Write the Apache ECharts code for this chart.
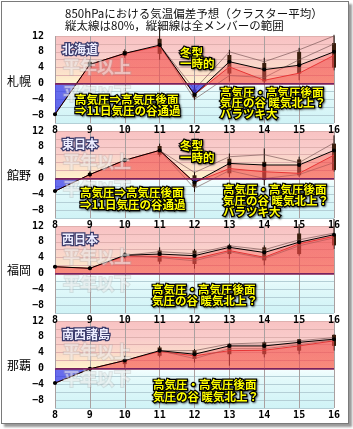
<!DOCTYPE html>
<html><head><meta charset="utf-8">
<script src="https://cdn.jsdelivr.net/npm/echarts@6/dist/echarts.min.js"></script>
<style>
html,body{margin:0;padding:0;background:#fff;}
#frame{position:absolute;left:1px;top:1px;width:346px;height:421px;border:1px solid #7a7a7a;box-shadow:3px 3px 2px #9a9a9a;background:#fff;}
#chart{position:absolute;left:0;top:0;width:353px;height:429px;}
</style></head><body>
<div id="frame"></div><div id="chart"></div>
<script>
// ---- data ----
const days = [8, 9, 10, 11, 12, 13, 14, 15, 16];
const stations = ['札幌', '館野', '福岡', '那覇'];
const regions = ['北海道', '東日本', '西日本', '南西諸島'];
const yLabels = [12, 8, 4, 0, -4, -8];
const titleLines = ['850hPaにおける気温偏差予想（クラスター平均）', '縦太線は80%，縦細線は全メンバーの範囲'];

const meanSapporo = [-7.8, 4.8, 7.6, 9.7, -2.8, 5.5, 3.5, 4.6, 8.0];
const lowSapporo  = [-7.8, 4.8, 7.6, 9.4, -2.8, 4.2, 0.8, 2.6, 7.1];
// [thin low, thin high, thick low, thick high]
const barsSapporo = [[-8.2,-7.4,-8.0,-7.6],[3.5,6.0,4.0,5.5],[6.5,8.6,7.0,8.2],[6.0,14.2,7.5,11.3],[-4.2,0.5,-3.5,-1.5],[0.5,8.5,2.5,7.2],[-0.2,6.5,0.5,5.2],[0.8,9.0,2.5,8.0],[3.3,12.3,4.0,10.2]];
const clusterASapporo = [null, null, null, 9.7, -1.5, 8.0, 5.5, 8.5, 12.0];
const clusterBSapporo = [null, null, null, 9.7, -4.0, 2.0, 1.5, 6.0, 10.0];

const meanTateno = [-3.2, 1.0, 4.6, 7.1, -1.0, 3.8, 3.4, 3.4, 7.1];
const lowTateno  = [-3.2, 1.0, 4.6, 7.1, -1.0, 2.5, 1.7, 1.3, 5.9];
const barsTateno = [[-3.5,-2.9,-3.4,-3.0],[0.3,1.8,0.6,1.4],[4.0,5.2,4.3,5.0],[5.5,8.8,6.0,8.2],[-3.4,1.7,-2.1,0.8],[0.4,6.3,1.3,5.0],[-1.7,7.6,-0.4,4.2],[0.4,5.5,0.8,4.8],[1.7,10.9,2.1,8.8]];
const clusterATateno = [null, null, null, 7.1, 1.5, 5.5, 6.0, 4.0, 9.0];
const clusterBTateno = [null, null, null, 7.1, -2.5, 2.0, 0.0, 1.0, 4.0];

const meanFukuoka = [1.7, 1.3, 4.6, 4.9, 4.5, 6.6, 5.3, 7.9, 9.8];
const lowFukuoka  = [1.7, 1.3, 4.4, 4.3, 3.7, 5.8, 4.1, 7.5, 9.4];
const barsFukuoka = [[1.4,2.0,1.5,1.9],[0.8,1.8,1.0,1.6],[3.8,5.3,4.1,5.0],[2.4,6.6,3.0,5.8],[1.2,6.2,2.4,5.8],[3.7,7.5,4.9,7.1],[2.0,7.1,3.3,6.6],[4.5,12.5,4.9,10.1],[6.2,13.8,7.1,9.8]];
const clusterAFukuoka = [null, null, 4.6, 5.5, 5.0, 7.0, 6.0, 8.5, 10.2];
const clusterBFukuoka = [null, null, 4.6, 4.0, 3.2, 5.5, 3.8, 7.0, 9.0];

const meanNaha = [-3.7, -0.1, 2.0, 4.5, 3.6, 5.7, 5.7, 6.6, 7.4];
const lowNaha  = [-3.7, -0.1, 2.0, 4.3, 3.2, 4.5, 4.6, 5.7, 7.0];
const barsNaha = [[-3.9,-3.5,-3.8,-3.6],[-0.5,0.3,-0.3,0.2],[0.2,3.2,1.1,2.4],[2.8,5.7,3.2,5.3],[1.5,4.9,2.4,4.6],[0.7,6.4,3.6,6.2],[2.8,6.8,3.6,6.6],[3.6,7.4,4.5,7.4],[4.5,8.6,5.7,8.5]];
const clusterANaha = [null, null, null, 4.5, 4.5, 6.2, 6.5, 7.0, 7.8];
const clusterBNaha = [null, null, null, 4.5, 2.5, 5.0, 5.0, 6.0, 7.2];

const notesA = ['高気圧⇒高気圧後面', '⇒11日気圧の谷通過'];
const notesB = ['冬型', '一時的'];
const notesC = ['高気圧・高気圧後面', '気圧の谷 暖気北上？', 'バラツキ大'];
const notesD = ['高気圧・高気圧後面', '気圧の谷 暖気北上？'];

// ---- layout ----
const Y_MIN = -10, Y_MAX = 12;
const LEFT = 55, WIDTH = 279, HEIGHT = 87, TOPS = [36, 131, 226, 321];
const FONT_JP = '"Noto Sans CJK JP", "Noto Sans", sans-serif';
const FONT_NUM = '"DejaVu Sans Mono", monospace';

const panels = [
  {mean: meanSapporo, low: lowSapporo, bars: barsSapporo, clusters: [clusterASapporo, clusterBSapporo]},
  {mean: meanTateno, low: lowTateno, bars: barsTateno, clusters: [clusterATateno, clusterBTateno]},
  {mean: meanFukuoka, low: lowFukuoka, bars: barsFukuoka, clusters: [clusterAFukuoka, clusterBFukuoka]},
  {mean: meanNaha, low: lowNaha, bars: barsNaha, clusters: [clusterANaha, clusterBNaha]}
];

const chart = echarts.init(document.getElementById('chart'));

function bgGradient() {
  const z = Y_MAX / (Y_MAX - Y_MIN);
  return new echarts.graphic.LinearGradient(0, 0, 0, 1, [
    {offset: 0, color: '#f8c2c2'},
    {offset: 0.2, color: '#f9cccb'},
    {offset: 0.38, color: '#fbdcca'},
    {offset: z, color: '#fff3cc'},
    {offset: z, color: '#f6ffff'},
    {offset: 0.68, color: '#e2f9fa'},
    {offset: 1, color: '#d0f3f6'}
  ]);
}

function splitColors() {
  const arr = [];
  for (let v = Y_MIN; v <= Y_MAX; v += 2) arr.push(v < 0 ? '#b4cfd6' : (v === 0 ? '#802050' : '#dfb0ae'));
  return arr;
}

function zoneGrad(i, pos, neg) {
  const yTop = chart.convertToPixel({gridIndex: i}, [8, Y_MAX])[1];
  const yBot = chart.convertToPixel({gridIndex: i}, [8, Y_MIN])[1];
  const y0 = chart.convertToPixel({gridIndex: i}, [8, 0])[1];
  const t = (y0 - yTop) / (yBot - yTop);
  return new echarts.graphic.LinearGradient(0, yTop, 0, yBot, [
    {offset: 0, color: pos}, {offset: t, color: pos},
    {offset: t, color: neg}, {offset: 1, color: neg}
  ], true);
}

function renderBar(params, api) {
  const x = api.value(0);
  const p1 = api.coord([x, api.value(1)]);
  const p2 = api.coord([x, api.value(2)]);
  const q1 = api.coord([x, api.value(3)]);
  const q2 = api.coord([x, api.value(4)]);
  return {type: 'group', children: [
    {type: 'line', shape: {x1: p1[0], y1: p1[1], x2: p2[0], y2: p2[1]}, style: {stroke: '#1a0a05', lineWidth: 1}},
    {type: 'rect', shape: {x: q1[0] - 2, y: q2[1], width: 4, height: q1[1] - q2[1]}, style: {fill: '#3a1e0e'}}
  ]};
}

function buildOption(withGrad) {
  const grid = [], xAxis = [], yAxis = [], series = [];
  panels.forEach((p, i) => {
    grid.push({left: LEFT, top: TOPS[i], width: WIDTH, height: HEIGHT, show: true, backgroundColor: bgGradient(), borderWidth: 0});
    xAxis.push({type: 'value', gridIndex: i, min: days[0], max: days[days.length - 1], interval: 1,
      axisLine: {show: false}, axisTick: {show: false},
      axisLabel: {margin: 2, fontFamily: FONT_NUM, fontWeight: 'bold', fontSize: 10, color: '#000'},
      splitLine: {show: true, lineStyle: {color: '#aaa0a0', width: 1}}});
    yAxis.push({type: 'value', gridIndex: i, min: Y_MIN, max: Y_MAX, interval: 2,
      axisLine: {show: false}, axisTick: {show: false},
      axisLabel: {margin: 11, fontFamily: FONT_NUM, fontWeight: 'bold', fontSize: 10, color: '#000',
        formatter: v => yLabels.includes(v) ? (v < 0 ? '\u2212' + (-v) : String(v)) : ''},
      splitLine: {show: true, lineStyle: {color: splitColors(), width: 1}}});
    series.push({type: 'custom', xAxisIndex: i, yAxisIndex: i, clip: false, z: 2,
      data: days.map((d, k) => [d].concat(p.bars[k])), renderItem: renderBar});
    series.push({type: 'line', xAxisIndex: i, yAxisIndex: i, z: 3, showSymbol: false, symbol: 'none',
      data: days.map((d, k) => [d, p.low[k]]),
      lineStyle: {color: '#d81818', width: 1},
      areaStyle: {opacity: 1, color: withGrad ? zoneGrad(i, 'rgba(228,30,30,0.34)', 'rgba(40,40,220,0.35)') : 'rgba(228,30,30,0.34)'}});
    p.clusters.forEach(c => {
      series.push({type: 'line', xAxisIndex: i, yAxisIndex: i, z: 3, showSymbol: false, symbol: 'none',
        data: days.map((d, k) => [d, c[k]]), lineStyle: {color: '#6a4848', width: 0.6}});
    });
    series.push({type: 'line', xAxisIndex: i, yAxisIndex: i, z: 4, symbol: 'circle', symbolSize: 4,
      data: days.map((d, k) => [d, p.mean[k]]),
      itemStyle: {color: '#000'}, lineStyle: {color: '#000', width: 1},
      areaStyle: {opacity: 1, color: withGrad ? zoneGrad(i, 'rgba(250,95,95,0.42)', 'rgba(50,50,235,0.55)') : 'rgba(250,95,95,0.42)'},
      markLine: {silent: true, symbol: 'none', label: {show: false}, animation: false,
        lineStyle: {color: '#802050', width: 1.5, type: 'solid'}, data: [{yAxis: 0}]}});
  });

  const g = [];
  const txt = (text, x, y, style) => g.push({type: 'text', z: 100, x: x, y: y, style: Object.assign({text: text, textVerticalAlign: 'middle'}, style)});
  txt(titleLines[0], 65, 14, {font: '11.5px ' + FONT_JP, fill: '#111'});
  txt(titleLines[1], 65, 25.5, {font: '11.5px ' + FONT_JP, fill: '#111'});
  const zeroY = TOPS.map(t => t + HEIGHT * Y_MAX / (Y_MAX - Y_MIN));
  const stationY = [81, 175, 270, 365];
  stations.forEach((s, i) => txt(s, 7, stationY[i], {font: '12px ' + FONT_JP, fill: '#000'}));
  regions.forEach((r, i) => txt(r, 62, TOPS[i] + 13, {font: 'bold 12px ' + FONT_JP, fill: '#eeeeff', stroke: '#3c3c6c', lineWidth: 2.5}));
  const wm = {font: 'bold 17px ' + FONT_JP, fill: 'rgba(255,255,255,0.45)', stroke: 'rgba(170,170,170,0.3)', lineWidth: 2};
  zeroY.forEach(z0 => { txt('平年以上', 63, z0 - 16.5, wm); txt('平年以下', 63, z0 + 10, wm); });
  const yel = {font: 'bold 11.5px ' + FONT_JP, fill: '#ffff00', stroke: '#000', lineWidth: 2.4, textShadowColor: 'rgba(0,0,0,0.5)', textShadowBlur: 2, textShadowOffsetX: 1, textShadowOffsetY: 1};
  const lines = (arr, x, y0, lh, st) => arr.forEach((t, k) => txt(t, x, y0 + k * lh, st));
  lines(notesA, 75, 100, 11, yel);
  lines(notesA, 80, 192.5, 12, yel);
  lines(notesB, 180, 52.5, 11, yel);
  lines(notesB, 180, 146, 12, yel);
  lines(notesC, 220, 92.5, 10.5, yel);
  lines(notesC, 223, 190, 10.8, yel);
  lines(notesD, 152, 290, 11, yel);
  lines(notesD, 153, 385, 12, yel);

  return {animation: false, backgroundColor: 'transparent', grid, xAxis, yAxis, series, graphic: {elements: g}};
}

chart.setOption(buildOption(false));
chart.setOption(buildOption(true));
</script>
</body></html>
